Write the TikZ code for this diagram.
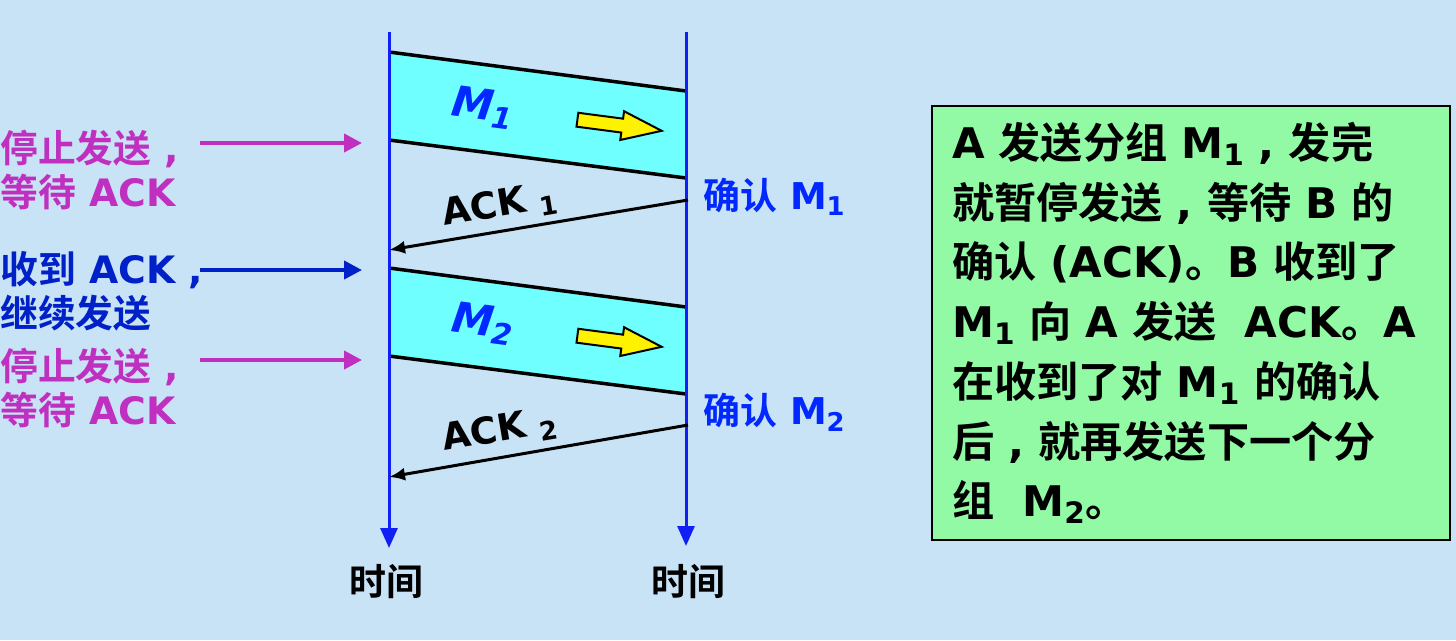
\documentclass[tikz,border=0pt]{standalone}
\usepackage{fontspec}
\setmainfont{DejaVu Sans}
\newfontfamily\cjk[BoldFont={Noto Sans CJK SC Bold}]{Noto Sans CJK SC}
\usepackage{xcolor}
\usetikzlibrary{arrows.meta,shapes.arrows}
\newcommand\zh[1]{{\cjk #1}}
\newcommand\subi[1]{\textsubscript{#1}}
\definecolor{bgblue}{RGB}{200,226,246}
\definecolor{pktcyan}{RGB}{112,255,255}
\definecolor{notegreen}{RGB}{146,250,165}
\definecolor{stopmag}{RGB}{192,48,192}
\definecolor{gonavy}{RGB}{0,32,200}
\definecolor{lineblue}{RGB}{16,32,245}
\definecolor{ackblue}{RGB}{0,40,255}
\begin{document}
\begin{tikzpicture}[x=0.02cm,y=-0.02cm,>=Latex,
  lbl/.style={font=\fontsize{21.5}{25}\selectfont\bfseries,align=left,anchor=west,inner sep=0pt},
  timelbl/.style={font=\fontsize{21}{25}\selectfont\bfseries,inner sep=0pt},
  conf/.style={font=\fontsize{21}{25}\selectfont\bfseries,ackblue,anchor=west,inner sep=0pt},
  pkt/.style={font=\fontsize{24}{28}\selectfont\bfseries\itshape,ackblue,inner sep=0pt},
  acklbl/.style={font=\fontsize{21}{25}\selectfont\bfseries,inner sep=0pt},
  tl/.style={lineblue,line width=0.06cm,-{Triangle[length=0.4cm,width=0.34cm]}},
  side/.style={line width=0.08cm,-{Triangle[length=0.36cm,width=0.36cm]}},
  edge/.style={line width=0.07cm},
  ack/.style={line width=0.06cm,-{Latex[length=0.32cm,width=0.26cm]}},
  yarrow/.style={single arrow,draw,line width=0.04cm,fill=yellow,minimum height=1.7cm,
    single arrow head extend=0.15cm,single arrow tip angle=40,inner sep=0.12cm},
  note/.style={draw,line width=0.04cm,fill=notegreen,text width=9.56cm,inner xsep=0.4cm,
    minimum height=8.68cm,align=left,font=\fontsize{24}{34}\selectfont\bfseries}]
\useasboundingbox[fill=bgblue] (0,0) rectangle (1456,640);
\foreach \dy/\k in {0/1,216/2}{
  \fill[pktcyan] (389,52+\dy) -- (686,91+\dy) -- (686,178+\dy) -- (389,140+\dy) -- cycle;
  \draw[edge] (389,52+\dy) -- (686,91+\dy);
  \draw[edge] (389,140+\dy) -- (686,178+\dy);
  \node[pkt,rotate=-7.5] (m\k) at (483,108+\dy) {M\subi{\k}};
  \node[yarrow,rotate=-7.5] (y\k) at (610,124+\dy) {};
}
\coordinate (a0) at (389,32); \coordinate (a1) at (389,548);
\coordinate (b0) at (686,32); \coordinate (b1) at (686,546);
\draw[tl] (a0) -- (a1);
\draw[tl] (b0) -- (b1);
\node[timelbl] (ta) at (386,582) {\zh{时间}};
\node[timelbl] (tb) at (688,582) {\zh{时间}};
\coordinate (k1s) at (688,200); \coordinate (k1e) at (389,250);
\coordinate (k2s) at (688,425); \coordinate (k2e) at (389,477);
\draw[ack] (k1s) -- (k1e);
\draw[ack] (k2s) -- (k2e);
\node[acklbl,rotate=9.5] (k1) at (500,206) {ACK \subi{1}};
\node[acklbl,rotate=9.5] (k2) at (500,431) {ACK \subi{2}};
\node[conf] (c1) at (703,197) {\zh{确认} M\subi{1}};
\node[conf] (c2) at (703,412) {\zh{确认} M\subi{2}};
\node[lbl,stopmag] (w1) at (0,170) {\zh{停止发送} ,\\\zh{等待} ACK};
\node[lbl,gonavy] (g1) at (0,291) {\zh{收到} ACK ,\\\zh{继续发送}};
\node[lbl,stopmag] (w2) at (0,388) {\zh{停止发送} ,\\\zh{等待} ACK};
\coordinate (p1) at (200,143); \coordinate (q1) at (362,143);
\coordinate (p2) at (200,270); \coordinate (q2) at (362,270);
\coordinate (p3) at (200,360); \coordinate (q3) at (362,360);
\draw[side,stopmag] (p1) -- (q1);
\draw[side,gonavy] (p2) -- (q2);
\draw[side,stopmag] (p3) -- (q3);
\node[note] (txt) at (1191,323) {A \zh{发送分组} M\subi{1} , \zh{发完}\\
  \zh{就暂停发送} , \zh{等待} B \zh{的}\\
  \zh{确认} (ACK)\zh{。}B \zh{收到了}\\
  M\subi{1} \zh{向} A \zh{发送} \ ACK\zh{。}A\\
  \zh{在收到了对} M\subi{1} \zh{的确认}\\
  \zh{后} , \zh{就再发送下一个分}\\
  \zh{组} \ M\subi{2}\zh{。}};
\end{tikzpicture}
\end{document}
